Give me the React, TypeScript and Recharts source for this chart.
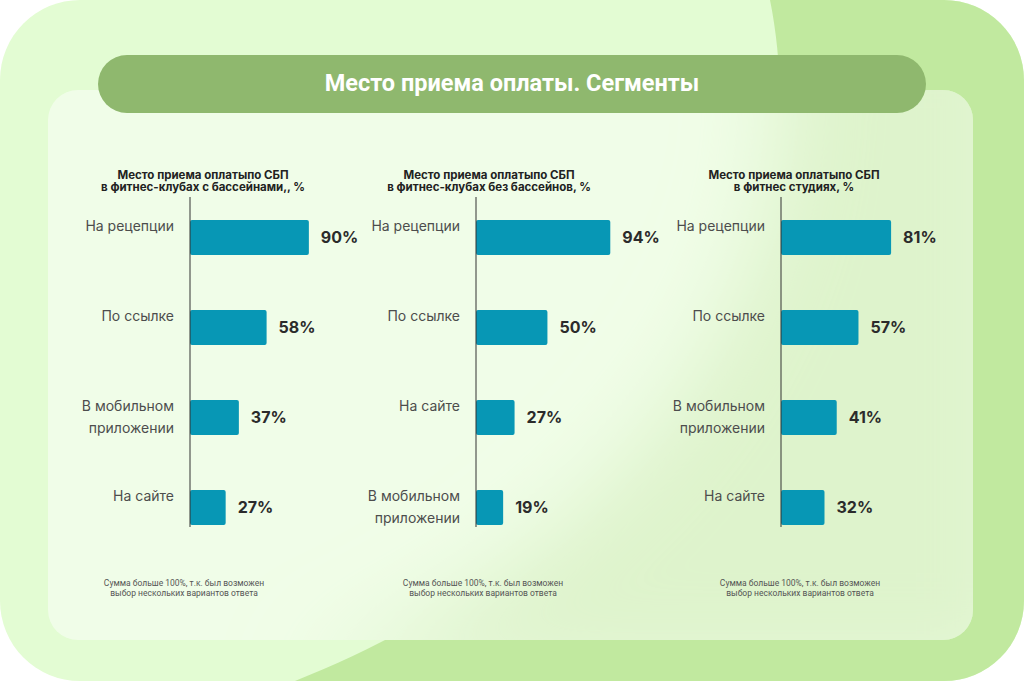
import React from "react";
import { BarChart, Bar, XAxis, YAxis, LabelList } from "recharts";

// data
const poolCategories = ["На рецепции", "По ссылке", "В мобильном\nприложении", "На сайте"];
const poolValues = [90, 58, 37, 27];

const noPoolCategories = ["На рецепции", "По ссылке", "На сайте", "В мобильном\nприложении"];
const noPoolValues = [94, 50, 27, 19];

const studioCategories = ["На рецепции", "По ссылке", "В мобильном\nприложении", "На сайте"];
const studioValues = [81, 57, 41, 32];

const chartTitles = [
  ["Место приема оплатыпо СБП", "в фитнес-клубах с бассейнами,, %"],
  ["Место приема оплатыпо СБП", "в фитнес-клубах без бассейнов, %"],
  ["Место приема оплатыпо СБП", "в фитнес студиях, %"],
];
const footnote = ["Сумма больше 100%, т.к. был возможен", "выбор нескольких вариантов ответа"];
const mainTitle = "Место приема оплаты. Сегменты";

const BAR_COLOR = "#0797b5";
const Y_AXIS_W = 130;

const CatTick = (props: any) => {
  const { x, y, payload } = props;
  const lines = String(payload.value).split("\n");
  return (
    <text x={x} y={y} textAnchor="end" fontSize={14} fill="#4d4d4d" fontFamily="Inter, sans-serif">
      {lines.map((l, i) => (
        <tspan key={i} x={x} dy={i === 0 ? -6 : 22}>
          {l}
        </tspan>
      ))}
    </text>
  );
};

function Segment({
  categories,
  values,
  max,
  axisX,
  title,
  noteX,
}: {
  categories: string[];
  values: number[];
  max: number;
  axisX: number;
  title: string[];
  noteX: number;
}) {
  const rows = categories.map((c, i) => ({ name: c, value: values[i] }));
  return (
    <>
      <div
        style={{
          position: "absolute",
          left: axisX + 13 - 150,
          width: 300,
          top: 168.5,
          textAlign: "center",
          fontFamily: "Inter, sans-serif",
          fontWeight: 700,
          fontSize: 11.5,
          lineHeight: "12.5px",
          color: "#222",
        }}
      >
        {title[0]}
        <br />
        {title[1]}
      </div>
      <div style={{ position: "absolute", left: axisX - Y_AXIS_W, top: 180 }}>
        <BarChart
          width={320}
          height={380}
          data={rows}
          layout="vertical"
          margin={{ top: 17, right: 50, bottom: 33, left: 0 }}
        >
          <XAxis type="number" hide domain={[0, max]} />
          <YAxis
            type="category"
            dataKey="name"
            width={Y_AXIS_W}
            axisLine={{ stroke: "#333", strokeWidth: 1 }}
            tickLine={false}
            tickMargin={10}
            tick={<CatTick />}
            padding={{ top: -5, bottom: -25 }}
          />
          <Bar dataKey="value" fill={BAR_COLOR} barSize={35} radius={2} isAnimationActive={false}>
            <LabelList
              dataKey="value"
              position="right"
              offset={12}
              formatter={(v: any) => `${v}%`}
              style={{ fontFamily: "Inter, sans-serif", fontWeight: 700, fontSize: 16, fill: "#2b2b2b" }}
            />
          </Bar>
        </BarChart>
      </div>
      <div
        style={{
          position: "absolute",
          left: noteX - 120,
          width: 240,
          top: 579,
          textAlign: "center",
          fontFamily: "Roboto, sans-serif",
          fontSize: 8.5,
          lineHeight: "9.5px",
          color: "#555",
        }}
      >
        {footnote[0]}
        <br />
        {footnote[1]}
      </div>
    </>
  );
}

const blob = "M770 0 C 830 300, 600 560, 295 681 L1024 681 L1024 0 Z";

export default function App() {
  return (
    <div style={{ position: "absolute", left: 0, top: 0, width: 1024, height: 681, background: "#fff" }}>
      <svg width={1024} height={681} style={{ position: "absolute", left: 0, top: 0 }}>
        <defs>
          <clipPath id="outerClip">
            <rect x={0} y={0} width={1024} height={681} rx={80} />
          </clipPath>
          <clipPath id="panelClip">
            <rect x={48} y={90} width={925} height={550} rx={30} />
          </clipPath>
          <filter id="soft" x="-50%" y="-50%" width="200%" height="200%">
            <feGaussianBlur stdDeviation={45} />
          </filter>
        </defs>
        <g clipPath="url(#outerClip)">
          <rect x={0} y={0} width={1024} height={681} fill="#e3fcd3" />
          <path d={blob} fill="#c1e99f" />
        </g>
        <g clipPath="url(#panelClip)">
          <rect x={0} y={0} width={1024} height={681} fill="#e3fcd3" />
          <path d={blob} fill="#c1e99f" filter="url(#soft)" />
          <rect x={0} y={0} width={1024} height={681} fill="#fff" opacity={0.47} />
        </g>
      </svg>
      <div
        style={{
          position: "absolute",
          left: 98,
          top: 55,
          width: 828,
          height: 58,
          borderRadius: 29,
          background: "#8fb86e",
          color: "#fff",
          fontFamily: "Roboto, sans-serif",
          fontWeight: 700,
          fontSize: 23.5,
          lineHeight: "56px",
          textAlign: "center",
        }}
      >
        {mainTitle}
      </div>
      <Segment categories={poolCategories} values={poolValues} max={106} axisX={190} title={chartTitles[0]} noteX={184} />
      <Segment categories={noPoolCategories} values={noPoolValues} max={98} axisX={476} title={chartTitles[1]} noteX={483} />
      <Segment categories={studioCategories} values={studioValues} max={103} axisX={781} title={chartTitles[2]} noteX={800} />
    </div>
  );
}
